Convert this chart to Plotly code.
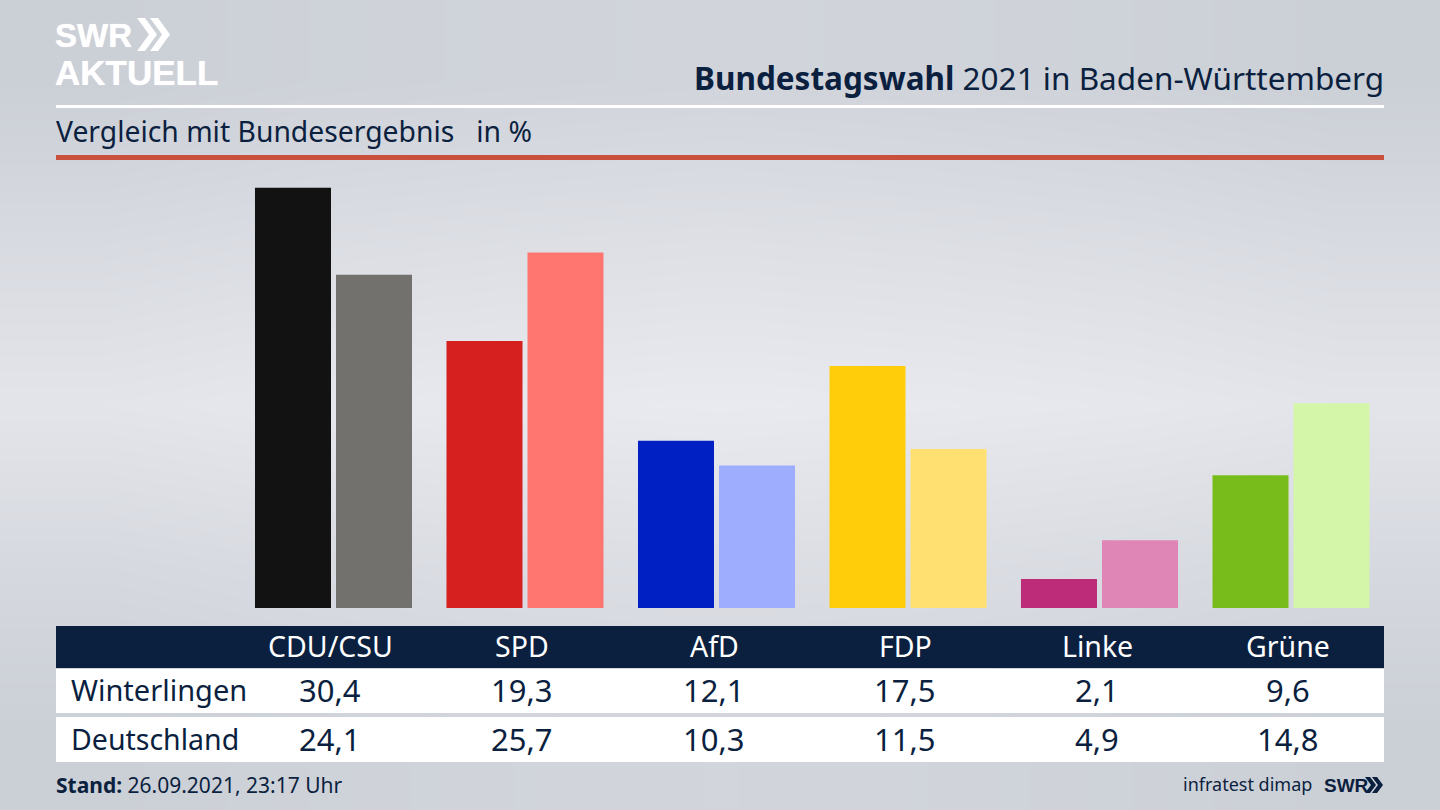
import plotly.graph_objects as go

W, H = 1440, 810
FONT = "Noto Sans"
NAVY = "#0b1f3f"

parties = ["CDU/CSU", "SPD", "AfD", "FDP", "Linke", "Grüne"]
winterlingen = [30.4, 19.3, 12.1, 17.5, 2.1, 9.6]
deutschland = [24.1, 25.7, 10.3, 11.5, 4.9, 14.8]
colors_local = ["#121212", "#d61f1f", "#0020c4", "#ffcd0a", "#bd2c79", "#78bc1b"]
colors_national = ["#72716e", "#ff7670", "#9fadff", "#ffe070", "#e086b7", "#d3f6a8"]

bg_z = [
    [0.00, 0.10, 0.18, 0.22, 0.18, 0.10, 0.00],
    [0.35, 0.45, 0.52, 0.55, 0.52, 0.45, 0.35],
    [0.80, 0.90, 0.96, 1.00, 0.96, 0.90, 0.80],
    [0.42, 0.52, 0.58, 0.62, 0.58, 0.52, 0.42],
    [0.00, 0.10, 0.16, 0.20, 0.16, 0.10, 0.00],
]


def px(x):
    return x / W


def py(y):
    return 1 - y / H


def fmt(v):
    return f"{v:.1f}".replace(".", ",")


fig = go.Figure()

# background gradient
fig.add_trace(go.Heatmap(
    z=bg_z, zsmooth="best", showscale=False, hoverinfo="skip",
    colorscale=[[0, "#cbcfd6"], [1, "#e9eaef"]], zmin=0, zmax=1,
    xaxis="x", yaxis="y",
))

fig.add_trace(go.Bar(x=parties, y=winterlingen, name="Winterlingen",
                     marker=dict(color=colors_local, line_width=0),
                     xaxis="x2", yaxis="y2"))
fig.add_trace(go.Bar(x=parties, y=deutschland, name="Deutschland",
                     marker=dict(color=colors_national, line_width=0),
                     xaxis="x2", yaxis="y2"))

shapes = []


def rect(x0, y0, x1, y1, color):
    shapes.append(dict(type="rect", xref="paper", yref="paper", layer="above",
                       x0=px(x0), x1=px(x1), y0=py(y1), y1=py(y0),
                       fillcolor=color, line_width=0))


def chevrons(x, y0, y1, color, w, t, gap):
    mid = (y0 + y1) / 2
    for k in range(2):
        a = x + k * gap
        pts = [(a, y0), (a + t, y0), (a + t + w, mid), (a + t, y1), (a, y1), (a + w, mid)]
        d = "M " + " L ".join(f"{px(p)} {py(q)}" for p, q in pts) + " Z"
        shapes.append(dict(type="path", xref="paper", yref="paper", layer="above",
                           path=d, fillcolor=color, line_width=0))


rect(56, 105, 1384, 108, "#ffffff")
rect(56, 155, 1384, 160, "#c8503d")
rect(56, 626, 1384, 668, NAVY)
rect(56, 669, 1384, 713, "#ffffff")
rect(56, 717, 1384, 762, "#ffffff")
chevrons(137, 18, 51, "#ffffff", 12, 8, 13)
chevrons(1365, 777, 793, NAVY, 6, 5, 7)

annotations = []


def text(x, y, s, size, color=NAVY, anchor="left", family=FONT, shadow=None):
    font = dict(family=family, size=size, color=color)
    if shadow:
        font["shadow"] = shadow
    annotations.append(dict(x=px(x), y=py(y), xref="paper", yref="paper", text=s,
                            showarrow=False, xanchor=anchor, yanchor="middle",
                            font=font, borderpad=0, borderwidth=0))


thick = "0 0 1px #ffffff"
text(55, 36, "<b>SWR</b>", 33, "#ffffff", family="Liberation Sans", shadow=thick)
text(55, 72, "<b>AKTUELL</b>", 35, "#ffffff", family="Liberation Sans", shadow=thick)
text(1384, 77.5, "<b>Bundestagswahl</b> 2021 in Baden-Württemberg", 31.5, anchor="right")
text(56, 131, "Vergleich mit Bundesergebnis&#160;&#160;&#160;in %", 28.3)

centers = [330, 522, 714, 905, 1097, 1288]
for c, p, a, b in zip(centers, parties, winterlingen, deutschland):
    text(c, 645.5, p, 28.5, "#ffffff", "center")
    text(c, 690, fmt(a), 31, anchor="center")
    text(c, 739, fmt(b), 31, anchor="center")
text(71, 689.5, "Winterlingen", 29)
text(71, 738.5, "Deutschland", 28.5)
text(56, 785, "<b>Stand:</b> 26.09.2021, 23:17 Uhr", 21)
text(1312, 784, "infratest dimap", 18, anchor="right")
text(1324, 785, "<b>SWR</b>", 19, family="Liberation Sans")

hidden = dict(visible=False, fixedrange=True)
# pixel centres of first/last group: 333.5 and 1291, spacing 191.5
x0_val = -333.5 / 191.5
fig.update_layout(
    width=W, height=H, margin=dict(l=0, r=0, t=0, b=0, pad=0),
    autosize=False, showlegend=False,
    paper_bgcolor="#dcdee4", plot_bgcolor="rgba(0,0,0,0)",
    barmode="group", bargap=0.154, bargroupgap=0.0617,
    shapes=shapes, annotations=annotations,
    xaxis=dict(hidden, domain=[0, 1], range=[-0.5, 6.5]),
    yaxis=dict(hidden, domain=[0, 1], range=[-0.5, 4.5]),
    xaxis2=dict(hidden, domain=[0, 1], anchor="y2", type="category",
                categoryorder="array", categoryarray=parties,
                range=[x0_val, x0_val + W / 191.5]),
    yaxis2=dict(hidden, domain=[py(608), py(187.5)], anchor="x2", range=[0, max(winterlingen)]),
)

fig.write_html("out.html", config={"displayModeBar": False},
               post_script="document.body.style.margin='0';")
